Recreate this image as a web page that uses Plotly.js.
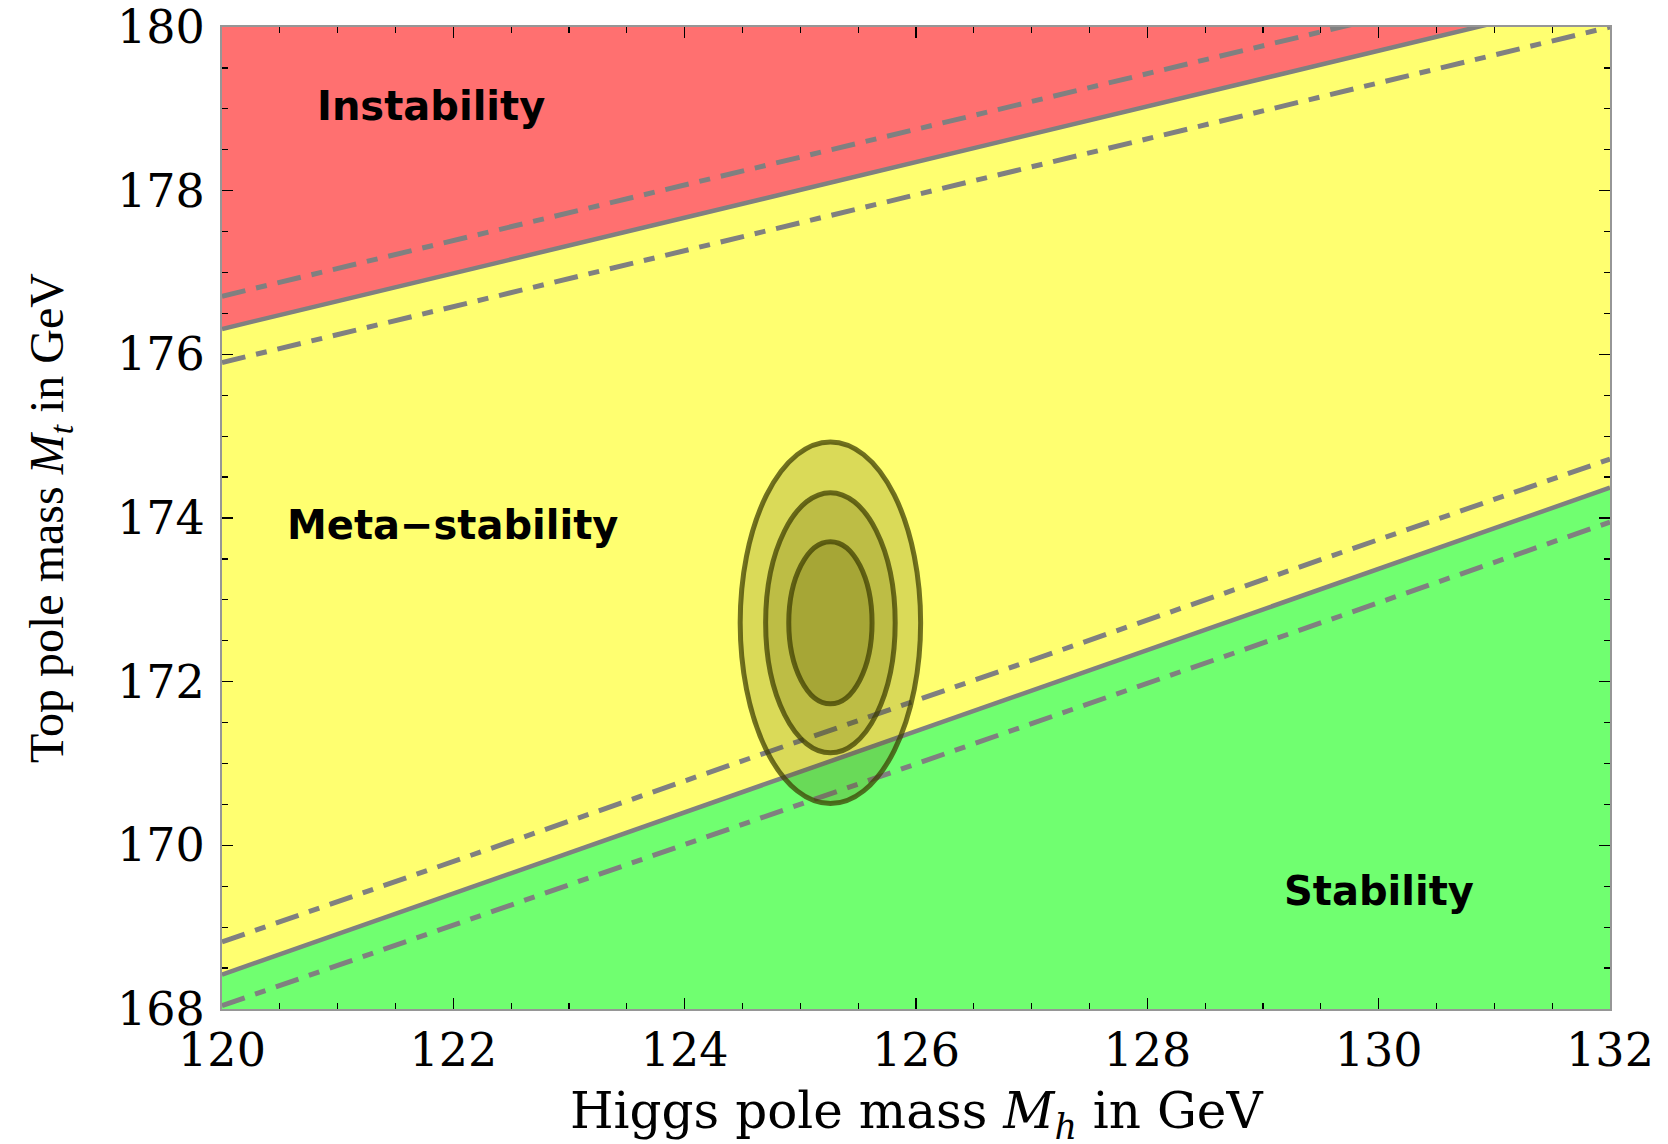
<!DOCTYPE html>
<html>
<head>
<meta charset="utf-8">
<script src="https://cdn.plot.ly/plotly-3.0.1.min.js"></script>
<style>html,body{margin:0;padding:0;background:#fff;}#chart{width:1668px;height:1144px;}</style>
</head>
<body>
<div id="chart"></div>
<script>
// Axis ranges (GeV)
const higgsRange = [120, 132];
const topRange = [168, 180];
const tickValsX = [120, 122, 124, 126, 128, 130, 132];
const tickValsY = [168, 170, 172, 174, 176, 178, 180];

// Boundary lines, evaluated at Mh = 120 and Mh = 132
const lineMh = [120, 132];
const instabCentral = [176.31, 180.39];
const instabUpper = [176.71, 180.79];
const instabLower = [175.90, 180.00];
const stabCentral = [168.42, 174.37];
const stabUpper = [168.82, 174.72];
const stabLower = [168.04, 173.95];

// Measurement ellipses (1, 2, 3 sigma)
const ellipseCenterMh = 125.26;
const ellipseCenterMt = 172.72;
const ellipseHalfMh = [0.36, 0.56, 0.78];
const ellipseHalfMt = [0.99, 1.59, 2.21];

// Region labels
const labelText = ["Instability", "Meta\u2212stability", "Stability"];
const labelMh = [121.81, 121.99, 130.0];
const labelMt = [179.03, 173.92, 169.44];

const xTitle = 'Higgs pole mass <i>M</i><sub><i>h</i></sub> in GeV';
const yTitle = 'Top pole mass <i>M</i><sub><i>t</i></sub> in GeV';

const red = 'rgb(255,112,112)';
const yellow = 'rgb(255,255,112)';
const green = 'rgb(112,255,112)';
const gray = 'rgb(128,128,128)';
const dashdot = '24px,11px,11px,11px';

const offTop = topRange[1] + 1;
const traces = [
  { x: [lineMh[0], lineMh[1], lineMh[1], lineMh[0]],
    y: [instabCentral[0], instabCentral[1], offTop, offTop],
    fill: 'toself', fillcolor: red, mode: 'none', hoverinfo: 'skip', showlegend: false },
  { x: [lineMh[0], lineMh[1], lineMh[1], lineMh[0]],
    y: [stabCentral[0], stabCentral[1], topRange[0], topRange[0]],
    fill: 'toself', fillcolor: green, mode: 'none', hoverinfo: 'skip', showlegend: false },
];
[[instabUpper, dashdot], [instabLower, dashdot], [instabCentral, 'solid'],
 [stabUpper, dashdot], [stabLower, dashdot], [stabCentral, 'solid']].forEach(([ys, d]) => {
  traces.push({ x: lineMh, y: ys, mode: 'lines', showlegend: false, hoverinfo: 'skip',
    line: { color: gray, width: d === 'solid' ? 4.5 : 5, dash: d } });
});

const shapes = [];
for (let i = ellipseHalfMh.length - 1; i >= 0; i--) {
  shapes.push({ type: 'circle', xref: 'x', yref: 'y',
    x0: ellipseCenterMh - ellipseHalfMh[i], x1: ellipseCenterMh + ellipseHalfMh[i],
    y0: ellipseCenterMt - ellipseHalfMt[i], y1: ellipseCenterMt + ellipseHalfMt[i],
    fillcolor: 'rgba(80,80,0,0.21)', line: { color: 'rgba(60,60,0,0.72)', width: 5 } });
}

const annotations = labelText.map((t, i) => ({
  x: labelMh[i], y: labelMt[i], xref: 'x', yref: 'y', text: t, showarrow: false,
  xanchor: 'center', yanchor: 'middle',
  font: { family: 'DejaVu Sans', size: 40, color: '#000', weight: 'bold' }
}));
annotations.push({
  x: 0.5, y: -0.107, xref: 'paper', yref: 'paper', text: xTitle, showarrow: false,
  xanchor: 'center', yanchor: 'middle',
  font: { family: 'DejaVu Serif', size: 50, color: '#000' }
});

const axisCommon = {
  showgrid: false, zeroline: false, showline: true, linecolor: 'rgb(150,150,150)', linewidth: 2,
  mirror: 'allticks', ticks: 'inside', ticklen: 11, tickwidth: 1.5, tickcolor: '#000',
  minor: { dtick: 0.5, ticks: 'inside', ticklen: 6, tickwidth: 1.2, tickcolor: '#000', showgrid: false },
  tickfont: { family: 'DejaVu Serif', size: 46, color: '#000' }
};

const layout = {
  width: 1668, height: 1144,
  margin: { l: 222, r: 58, t: 27, b: 135 },
  paper_bgcolor: '#fff', plot_bgcolor: yellow,
  showlegend: false,
  xaxis: Object.assign({}, axisCommon, {
    range: higgsRange, tickvals: tickValsX, ticktext: tickValsX.map(String)
  }),
  yaxis: Object.assign({}, axisCommon, {
    range: topRange, tickvals: tickValsY, ticktext: tickValsY.map(String),
    ticklabelstandoff: 6,
    title: { text: yTitle, standoff: 38,
      font: { family: 'Liberation Serif', size: 48, color: '#000' } }
  }),
  shapes: shapes,
  annotations: annotations
};

Plotly.newPlot('chart', traces, layout, { displayModeBar: false, staticPlot: true });
</script>
</body>
</html>
